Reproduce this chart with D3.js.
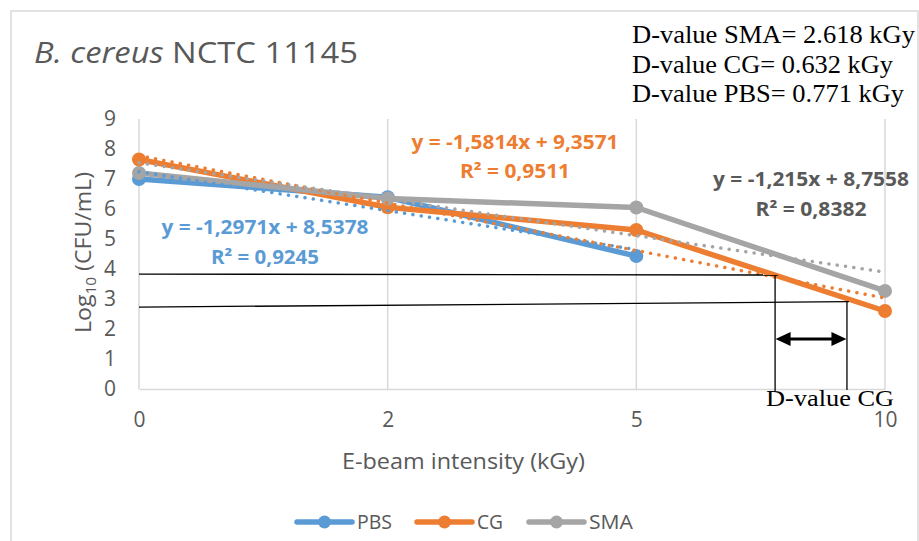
<!DOCTYPE html>
<html>
<head>
<meta charset="utf-8">
<script src="https://cdn.jsdelivr.net/npm/d3@7/dist/d3.min.js"></script>
<style>
  html, body { margin: 0; padding: 0; background: #fff; }
  svg { display: block; }
</style>
</head>
<body>
<svg id="chart" width="919" height="541"></svg>
<script>
// ---------- data ----------
const categories = ["0", "2", "5", "10"];
const yTicks = [0, 1, 2, 3, 4, 5, 6, 7, 8, 9];
const seriesNames = ["PBS", "CG", "SMA"];
const pbsValues = [7.0, 6.39, 4.43];
const cgValues = [7.65, 6.06, 5.3, 2.6];
const smaValues = [7.2, 6.35, 6.05, 3.27];
// trendline coefficients (y = slope * x + intercept, x = 1..n)
const trendSlopes = [-1.2971, -1.5814, -1.215];
const trendIntercepts = [8.5378, 9.3571, 8.7558];
const trendEquations = ["y = -1,2971x + 8,5378", "y = -1,5814x + 9,3571", "y = -1,215x + 8,7558"];
const trendR2 = ["R² = 0,9245", "R² = 0,9511", "R² = 0,8382"];
const dValueTexts = ["D-value SMA= 2.618 kGy", "D-value CG= 0.632 kGy", "D-value PBS= 0.771 kGy"];
const titleItalic = "B. cereus";
const titleRest = " NCTC 11145";
const xAxisTitle = "E-beam intensity (kGy)";
// annotation (in data units: x = category index, y = log value)
const annoHLines = [[0, 3.83, 2.57, 3.80], [0, 2.73, 2.855, 2.91]];
const annoVLines = [[2.558, 3.80, -0.07], [2.847, 2.91, -0.03]];
const annoArrow = [2.56, 2.845, 1.67];
const annoLabel = "D-value CG";

// ---------- setup ----------
const colors = ["#5B9BD5", "#ED7D31", "#A5A5A5"];
const eqColors = ["#5B9BD5", "#ED7D31", "#595959"];
const allValues = [pbsValues, cgValues, smaValues];
const sans = "'Open Sans', Lato, sans-serif";
const serif = "'Liberation Serif', 'Times New Roman', serif";

const svg = d3.select("#chart");
const W = 919, H = 541;
const plot = { left: 139, right: 885, top: 119, bottom: 389 };

const x = d3.scaleLinear().domain([0, categories.length - 1]).range([plot.left, plot.right]);
const y = d3.scaleLinear().domain([0, 9]).range([plot.bottom, plot.top]);

function fit(sel, len) {
  return sel.attr("textLength", len).attr("lengthAdjust", "spacingAndGlyphs");
}

// chart border
svg.append("path")
  .attr("d", `M11,${H} V11 H918 V${H}`)
  .attr("fill", "none").attr("stroke", "#D9D9D9").attr("stroke-width", 1.5);

// vertical gridlines
svg.append("g").selectAll("line").data(categories).join("line")
  .attr("x1", (d, i) => x(i)).attr("x2", (d, i) => x(i))
  .attr("y1", plot.top).attr("y2", plot.bottom)
  .attr("stroke", "#D9D9D9").attr("stroke-width", 1.5);

// x axis
const xAxis = d3.axisBottom(x).tickValues(d3.range(categories.length))
  .tickFormat(i => categories[i]).tickSize(0).tickPadding(23);
const gx = svg.append("g").attr("transform", `translate(0,${plot.bottom})`).call(xAxis);
gx.select(".domain").attr("stroke", "#D9D9D9").attr("stroke-width", 1.5);
gx.selectAll("text").attr("font-family", sans).attr("font-size", 21).attr("fill", "#595959");

// y axis
const yAxis = d3.axisLeft(y).tickValues(yTicks).tickSize(0).tickPadding(23);
const gy = svg.append("g").attr("transform", `translate(${plot.left},0)`).call(yAxis);
gy.select(".domain").remove();
gy.selectAll("text").attr("font-family", sans).attr("font-size", 21).attr("fill", "#595959");

// axis titles
fit(svg.append("text").attr("x", 342).attr("y", 469)
  .attr("font-family", sans).attr("font-size", 21).attr("fill", "#595959").text(xAxisTitle), 243);

const yt = svg.append("text").attr("transform", "translate(91,333) rotate(-90)")
  .attr("font-family", sans).attr("font-size", 21).attr("fill", "#595959");
yt.append("tspan").text("Log");
yt.append("tspan").attr("font-size", 14).attr("dy", 5).text("10");
yt.append("tspan").attr("dy", -5).text(" (CFU/mL)");
fit(yt, 161);

// title
const tt = svg.append("text").attr("x", 34).attr("y", 63)
  .attr("font-family", sans).attr("font-size", 29).attr("fill", "#595959");
tt.append("tspan").attr("font-style", "italic").text(titleItalic);
tt.append("tspan").text(titleRest);
fit(tt, 324);

// D-value texts
const dLens = [283, 261, 272];
svg.append("g").selectAll("text").data(dValueTexts).join("text")
  .attr("x", 632).attr("y", (d, i) => 43 + i * 29.5)
  .attr("font-family", serif).attr("font-size", 25).attr("fill", "#000")
  .attr("textLength", (d, i) => dLens[i]).attr("lengthAdjust", "spacingAndGlyphs")
  .text(d => d);

// series lines
const line = d3.line().x((d, i) => x(i)).y(d => y(d));
allValues.forEach((vals, s) => {
  svg.append("path").datum(vals).attr("d", line)
    .attr("fill", "none").attr("stroke", colors[s]).attr("stroke-width", 5.5)
    .attr("stroke-linejoin", "round").attr("stroke-linecap", "round");
  svg.append("g").selectAll("circle").data(vals).join("circle")
    .attr("cx", (d, i) => x(i)).attr("cy", d => y(d)).attr("r", 7)
    .attr("fill", colors[s]);
});

// trendlines
allValues.forEach((vals, s) => {
  const n = vals.length;
  const f = k => trendSlopes[s] * k + trendIntercepts[s];
  svg.append("line")
    .attr("x1", x(0)).attr("y1", y(f(1)))
    .attr("x2", x(n - 1)).attr("y2", y(f(n)))
    .attr("stroke", colors[s]).attr("stroke-width", 3.5)
    .attr("stroke-linecap", "round").attr("stroke-dasharray", "0.1 8.3");
});

// trendline labels
const eqPos = [[265, 227, 257], [515, 142, 171], [811, 179, 209]];
const eqLens = [207, 207, 196];
const r2Lens = [108, 110, 111];
trendEquations.forEach((eq, s) => {
  const g = svg.append("g").attr("font-family", sans).attr("font-size", 19)
    .attr("font-weight", "bold").attr("fill", eqColors[s]);
  fit(g.append("text").attr("x", eqPos[s][0] - eqLens[s] / 2).attr("y", eqPos[s][1] + 7)
    .text(eq), eqLens[s]);
  fit(g.append("text").attr("x", eqPos[s][0] - r2Lens[s] / 2).attr("y", eqPos[s][2] + 7)
    .text(trendR2[s]), r2Lens[s]);
});

// annotation
const ag = svg.append("g").attr("stroke", "#000").attr("stroke-width", 1.3);
ag.selectAll("line.h").data(annoHLines).join("line").attr("class", "h")
  .attr("x1", d => x(d[0])).attr("y1", d => y(d[1]))
  .attr("x2", d => x(d[2])).attr("y2", d => y(d[3]));
ag.selectAll("line.v").data(annoVLines).join("line").attr("class", "v")
  .attr("x1", d => x(d[0])).attr("y1", d => y(d[1]))
  .attr("x2", d => x(d[0])).attr("y2", d => y(d[2]));
const ax1 = x(annoArrow[0]), ax2 = x(annoArrow[1]), ay = y(annoArrow[2]);
svg.append("line").attr("x1", ax1 + 10).attr("x2", ax2 - 10).attr("y1", ay).attr("y2", ay)
  .attr("stroke", "#000").attr("stroke-width", 3);
svg.append("path")
  .attr("d", `M${ax1},${ay} L${ax1 + 15},${ay - 7} L${ax1 + 15},${ay + 7} Z M${ax2},${ay} L${ax2 - 15},${ay - 7} L${ax2 - 15},${ay + 7} Z`)
  .attr("fill", "#000");
fit(svg.append("text").attr("x", 766).attr("y", 406)
  .attr("font-family", serif).attr("font-size", 24).attr("fill", "#000").text(annoLabel), 128);

// legend
const legX = [297, 417, 529];
const legLens = [35, 26, 44];
const lg = svg.append("g");
seriesNames.forEach((name, s) => {
  lg.append("line").attr("x1", legX[s]).attr("x2", legX[s] + 55).attr("y1", 522).attr("y2", 522)
    .attr("stroke", colors[s]).attr("stroke-width", 5.5).attr("stroke-linecap", "round");
  lg.append("circle").attr("cx", legX[s] + 27.5).attr("cy", 522).attr("r", 6.5).attr("fill", colors[s]);
  fit(lg.append("text").attr("x", legX[s] + 60).attr("y", 529)
    .attr("font-family", sans).attr("font-size", 20).attr("fill", "#595959").text(name), legLens[s]);
});
</script>
</body>
</html>
